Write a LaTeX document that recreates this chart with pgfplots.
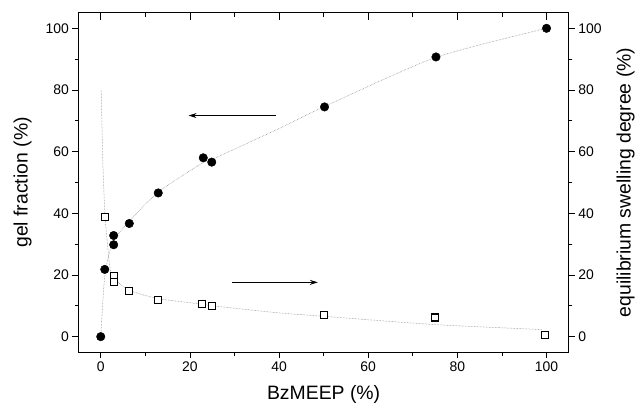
\documentclass[border=0pt]{standalone}
\usepackage{fontspec}
\setmainfont{Liberation Sans}
\usepackage{pgfplots}
\pgfplotsset{compat=1.18}
\usetikzlibrary{arrows.meta}
\begin{document}
\begin{tikzpicture}
\pgfplotsset{
  common/.style={
    width=493pt, height=341pt, scale only axis,
    xmin=-5, xmax=105, ymin=-5, ymax=105,
    clip=false,
    /pgf/number format/assume math mode=true,
    tick label style={font=\fontsize{14}{16}\selectfont},
    label style={font=\fontsize{19.5}{22}\selectfont, inner sep=0pt},
    major tick length=6pt, minor tick length=3.5pt,
    every tick/.style={black, line width=0.8pt},
    axis line style={line width=0.9pt},
    xtick={0,20,...,100}, minor xtick={10,30,...,90},
    ytick={0,20,...,100}, minor ytick={10,30,...,90},
  }
}
\begin{axis}[common,
  axis x line*=bottom, axis y line*=left, tick align=outside,
  xlabel={BzMEEP (\%)}, ylabel={gel fraction (\%)},
  xlabel style={at={(axis description cs:0.5,-0.126)}, anchor=center},
  ylabel style={at={(axis description cs:-0.114,0.5)}, anchor=center},
  ]
  \path (rel axis cs:-0.16,1.038) rectangle (rel axis cs:1.135,-0.161);
  % fit lines
  \addplot[densely dotted, line width=0.5pt, black!55, smooth, tension=0.4] coordinates {
    (0,0) (0.5,12) (1,21) (2,27.5) (3,31.5) (6.5,37.5) (13,47) (23,56.5) (25,57.5) (40,67.5) (50,74.5) (75,90.5) (100,100)};
  \addplot[densely dotted, line width=0.5pt, black!55, smooth, tension=0.4] coordinates {
    (0.1,80) (0.5,55) (1,38.7) (2,23) (3,18.8) (6.5,15) (13,12.3) (23,10.5) (25,10) (40,7.7) (50,6.6) (75,3.9) (99,2.3)};
  % gel fraction
  \addplot[only marks, mark=*, mark size=4.3pt, black] coordinates {
    (0,0) (0.9,21.8) (2.9,29.8) (2.9,32.8) (6.4,36.7) (12.9,46.6) (23,58) (24.9,56.6) (50.2,74.5) (75.2,90.7) (100,100)};
  % swelling degree
  \addplot[only marks, mark=square*, mark size=3.5pt, line width=1.1pt, draw=black, fill=white, mark options={fill=white}] coordinates {
    (0.9,38.7) (3,19.8) (3,17.8) (6.4,14.9) (12.9,12) (22.8,10.5) (24.9,9.9) (50,7.1) (75,6.2) (99.7,0.4)};
  % arrows
  \addplot[line width=1pt, black, -{Stealth[length=8pt,width=5pt]}] coordinates {(39.3,71.7) (19.7,71.7)};
  \addplot[line width=1pt, black, -{Stealth[length=8pt,width=5pt]}] coordinates {(29.5,17.6) (48.7,17.6)};
\end{axis}
\begin{axis}[common,
  axis x line=none, axis y line*=right, tick align=outside,
  ylabel={equilibrium swelling degree (\%)},
  ylabel style={at={(axis description cs:1.1156,0.5)}, anchor=center},
  ]
\end{axis}
\begin{axis}[common,
  axis x line*=top, axis y line=none, tick align=inside,
  xticklabels={}, major tick length=7pt, minor tick length=4pt,
  ]
\end{axis}
\end{tikzpicture}
\end{document}
